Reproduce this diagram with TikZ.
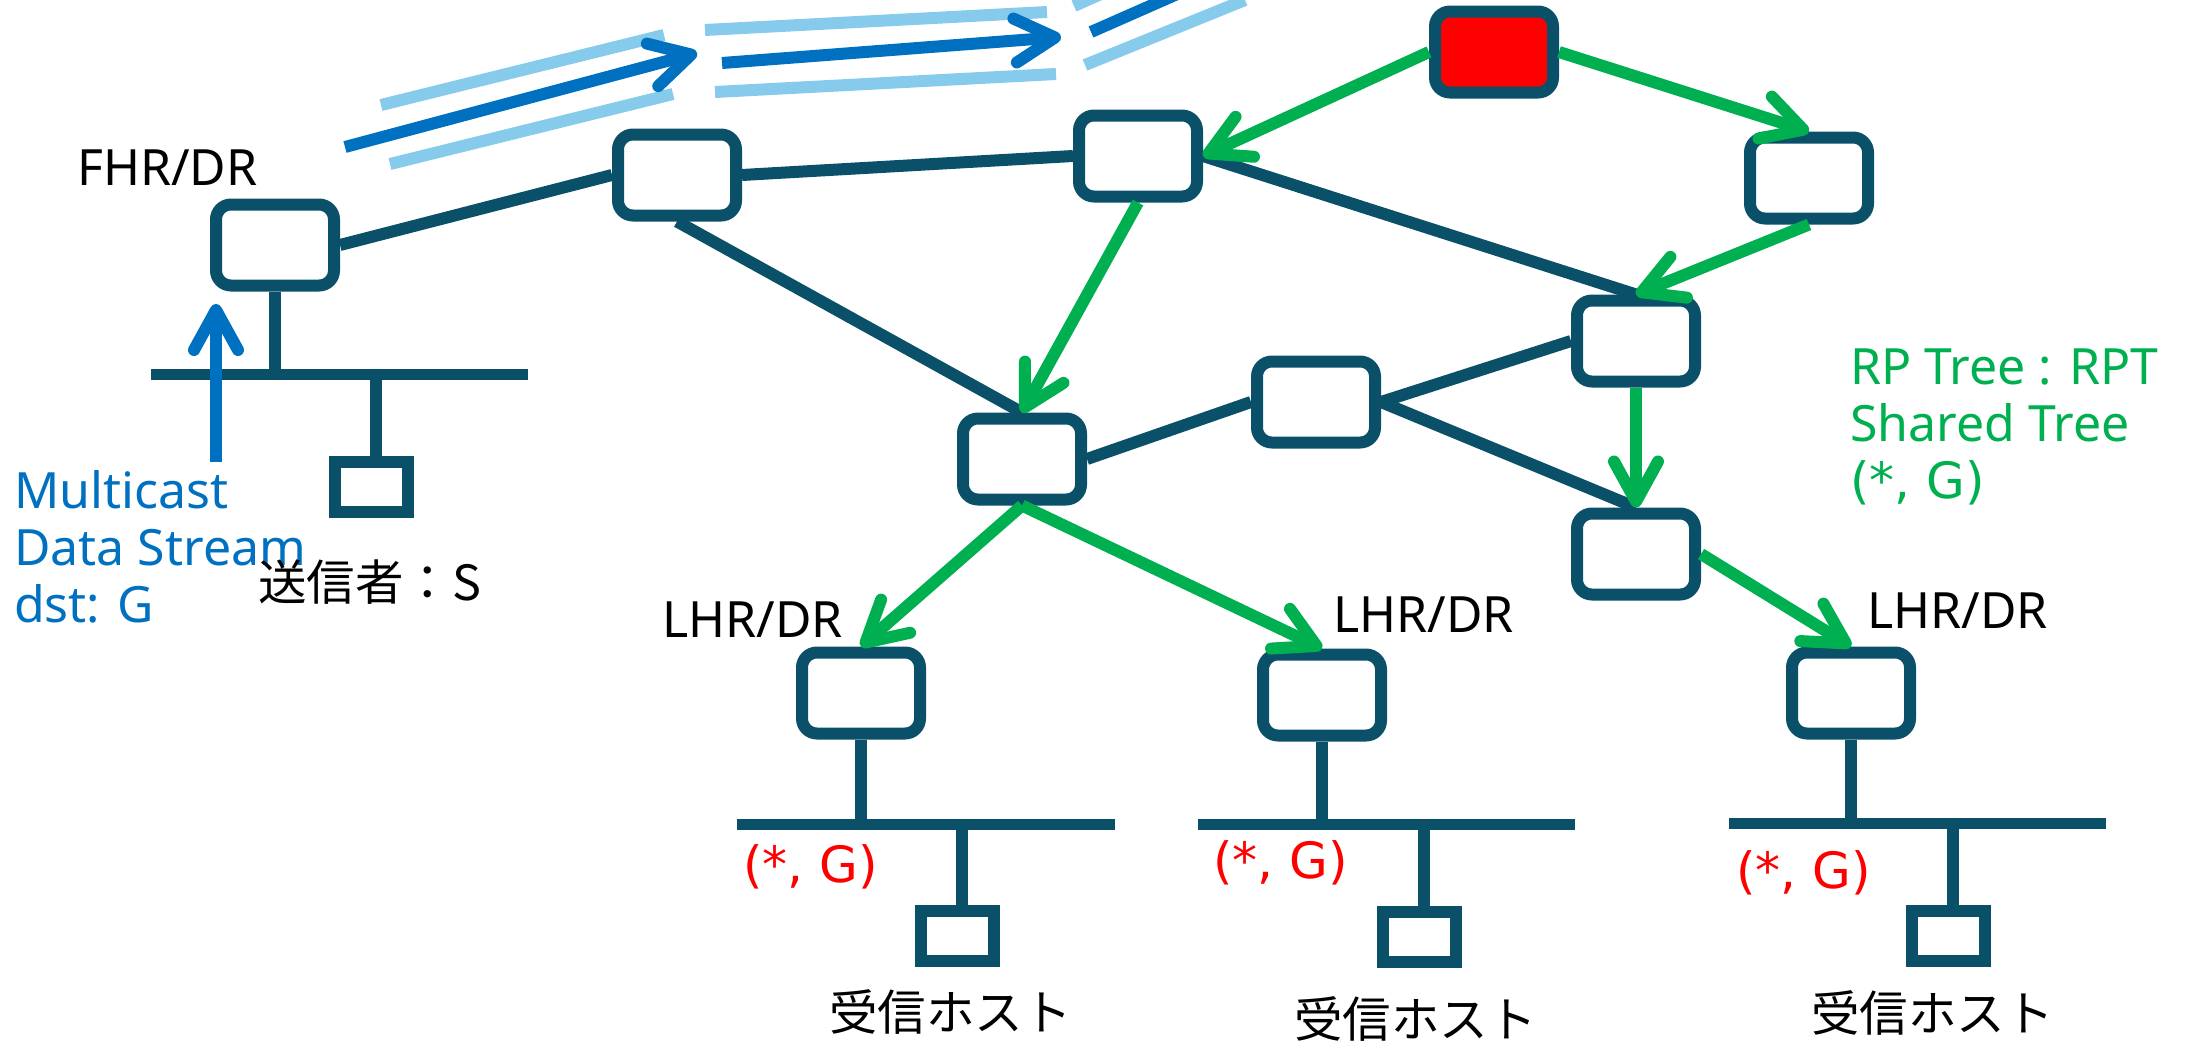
\documentclass[tikz,border=0pt]{standalone}
\usepackage{fontspec}
\setmainfont{Noto Sans}
\newfontfamily\jp{Noto Sans CJK JP}
\newfontfamily\widefont{DejaVu Sans}
\usetikzlibrary{arrows.meta}
\definecolor{teal1}{HTML}{0B5069}
\definecolor{lblue}{HTML}{86CBEB}
\definecolor{dblue}{HTML}{0070C0}
\definecolor{grn}{HTML}{00B050}
\begin{document}
\begin{tikzpicture}[x=1pt,y=-1pt,
  router/.style={draw=teal1, line width=12pt, fill=white, rounded corners=15pt, minimum width=118pt, minimum height=81pt, inner sep=0pt},
  host/.style={draw=teal1, line width=12pt, fill=white, minimum width=73pt, minimum height=50pt, inner sep=0pt},
  link/.style={draw=teal1, line width=12pt},
  bus/.style={draw=teal1, line width=11pt},
  tree/.style={draw=grn, line width=12pt, -{Straight Barb[round,length=40pt,width=44pt]}},
  flow/.style={draw=dblue, line width=12pt, -{Straight Barb[round,length=40pt,width=44pt]}},
  ghost/.style={draw=lblue, line width=12pt},
  lbl/.style={inner sep=0pt, anchor=base west, font=\fontsize{50}{60}\selectfont},
  sglbl/.style={inner sep=0pt, anchor=base west, font=\fontsize{50}{60}\selectfont\widefont},
  jlbl/.style={inner sep=0pt, anchor=base west, font=\fontsize{48.5}{58}\selectfont\jp},
]
\useasboundingbox (0,0) rectangle (2190,1042);
\clip (0,0) rectangle (2190,1042);

% data stream arrows (top)
\coordinate (g1a) at (381,105); \coordinate (g1b) at (664,35);
\coordinate (f1a) at (345,147); \coordinate (f1b) at (697,53);
\coordinate (g2a) at (390,164); \coordinate (g2b) at (673,94);
\coordinate (g3a) at (705,30);  \coordinate (g3b) at (1047,12);
\coordinate (f2a) at (722,63);  \coordinate (f2b) at (1061,37);
\coordinate (g4a) at (715,92);  \coordinate (g4b) at (1056,74);
\coordinate (g5a) at (1074,6);  \coordinate (g5b) at (1200,-50);
\coordinate (f3a) at (1091,32); \coordinate (f3b) at (1200,-16);
\coordinate (g6a) at (1085,65); \coordinate (g6b) at (1245,0);
\draw[ghost] (g1a) -- (g1b);
\draw[ghost] (g2a) -- (g2b);
\draw[ghost] (g3a) -- (g3b);
\draw[ghost] (g4a) -- (g4b);
\draw[ghost] (g5a) -- (g5b);
\draw[ghost] (g6a) -- (g6b);
\draw[flow] (f1a) -- (f1b);
\draw[flow] (f2a) -- (f2b);
\draw[draw=dblue, line width=12pt] (f3a) -- (f3b);

% routers
\node[router] (fhr) at (275,245) {};
\node[router] (r2) at (677,175) {};
\node[router] (r3) at (1138,156) {};
\node[router, fill=red] (rp) at (1494,52) {};
\node[router] (r5) at (1809,178) {};
\node[router] (r6) at (1636,341) {};
\node[router] (r7) at (1316,402) {};
\node[router] (r8) at (1022,459) {};
\node[router] (r9) at (1636,554) {};
\node[router] (l1) at (861,693) {};
\node[router] (l2) at (1322,695) {};
\node[router] (l3) at (1851,693) {};

% links
\draw[link] (fhr.east) -- (r2.west);
\draw[link] (r2.east) -- (r3.west);
\draw[link] (r2.south) -- (r8.north);
\draw[link] (r3.east) -- (r6.north);
\draw[link] (r8.east) -- (r7.west);
\draw[link] (r7.east) -- (r6.west);
\draw[link] (r7.east) -- (r9.north);

% LANs
\coordinate (b0w) at (151,374); \coordinate (b0e) at (528,374);
\coordinate (b1w) at (737,824); \coordinate (b1e) at (1115,824);
\coordinate (b2w) at (1198,824); \coordinate (b2e) at (1575,824);
\coordinate (b3w) at (1729,823); \coordinate (b3e) at (2106,823);
\node[host] (h0) at (371,487) {};
\node[host] (h1) at (957,936) {};
\node[host] (h2) at (1419,937) {};
\node[host] (h3) at (1948,936) {};
\draw[bus] (b0w) -- (b0e);
\draw[bus] (b1w) -- (b1e);
\draw[bus] (b2w) -- (b2e);
\draw[bus] (b3w) -- (b3e);
\draw[link] (fhr.south) -- (fhr.south |- b0w);
\draw[link] (l1.south) -- (l1.south |- b1w);
\draw[link] (l2.south) -- (l2.south |- b2w);
\draw[link] (l3.south) -- (l3.south |- b3w);
\draw[link] ([xshift=5pt]h0.north |- b0w) -- ([xshift=5pt]h0.north);
\draw[link] ([xshift=5pt]h1.north |- b1w) -- ([xshift=5pt]h1.north);
\draw[link] ([xshift=5pt]h2.north |- b2w) -- ([xshift=5pt]h2.north);
\draw[link] ([xshift=5pt]h3.north |- b3w) -- ([xshift=5pt]h3.north);

% multicast data into FHR
\coordinate (su) at (216,462); \coordinate (st) at (216,304);
\draw[flow] (su) -- (st);

% shared tree (green)
\draw[tree] (rp.west) -- (r3.east);
\draw[tree] (rp.east) -- (r5.north);
\draw[tree] (r5.south) -- (r6.north);
\draw[tree] (r3.south) -- (r8.north);
\draw[tree] (r6.south) -- (r9.north);
\draw[tree] (r8.south) -- (l1.north);
\draw[tree] (r8.south) -- (l2.north);
\draw[tree] (r9.east) -- (l3.north);

% labels
\node[lbl] (tfhr) at (77,185) {FHR/DR};
\node[lbl, text=dblue] (tm1) at (14,508) {Multicast};
\node[lbl, text=dblue] (tm2) at (14,565) {Data Stream};
\node[lbl, text=dblue] (tm3) at (14,622) {dst: G};
\node[jlbl] (tsnd) at (258,600) {送信者：S};
\node[lbl] (tl1) at (662,637) {LHR/DR};
\node[lbl] (tl2) at (1333,632) {LHR/DR};
\node[lbl] (tl3) at (1867,628) {LHR/DR};
\node[sglbl, text=red] (sg1) at (743,882) {(*, G)};
\node[sglbl, text=red] (sg2) at (1213,878) {(*, G)};
\node[sglbl, text=red] (sg3) at (1736,888) {(*, G)};
\node[jlbl] (rh1) at (829,1030) {受信ホスト};
\node[jlbl] (rh2) at (1294,1037) {受信ホスト};
\node[jlbl] (rh3) at (1811,1031) {受信ホスト};
\node[lbl, text=grn] (rpt1) at (1850,384) {RP Tree : RPT};
\node[lbl, text=grn] (rpt2) at (1850,441) {Shared Tree};
\node[sglbl, text=grn] (rpt3) at (1850,498) {(*, G)};
\end{tikzpicture}
\end{document}
